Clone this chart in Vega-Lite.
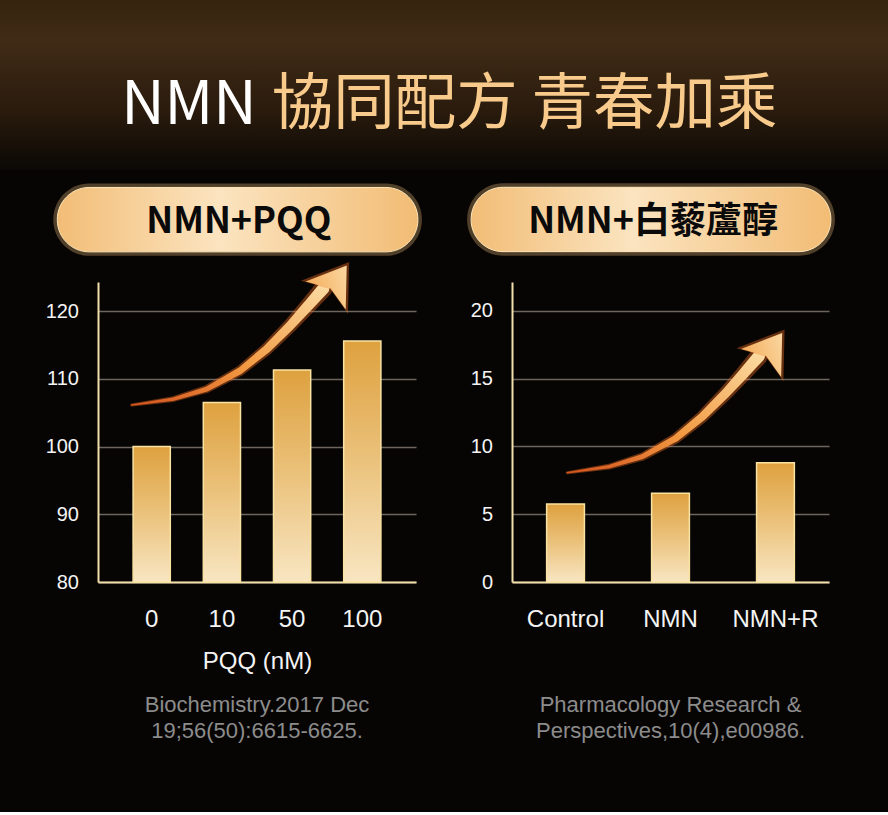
{
  "$schema": "https://vega.github.io/schema/vega-lite/v6.json",
  "background": "#070504",
  "padding": {"left": 0, "top": 0, "right": 0, "bottom": 70},
  "autosize": {"type": "pad"},
  "spacing": 13,
  "config": {
    "font": "Liberation Sans",
    "view": {"stroke": null},
    "axis": {
      "ticks": false,
      "labelColor": "#F4F4F4",
      "labelFont": "Liberation Sans",
      "titleFont": "Liberation Sans",
      "titleColor": "#F4F4F4",
      "titleFontWeight": "normal",
      "domainColor": "#F2DFAC",
      "domainWidth": 2,
      "gridColor": "#6C665C",
      "gridWidth": 1.5
    }
  },
  "vconcat": [
    {
      "width": 888,
      "height": 170,
      "view": {
        "stroke": null,
        "fill": {
          "gradient": "linear",
          "x1": 0, "y1": 0, "x2": 0, "y2": 1,
          "stops": [
            {"offset": 0, "color": "#36240F"},
            {"offset": 0.25, "color": "#402B16"},
            {"offset": 0.65, "color": "#2A1B0D"},
            {"offset": 1, "color": "#0B0805"}
          ]
        }
      },
      "layer": [
        {
          "data": {"values": [{"part": "NMN"}]},
          "mark": {"type": "text", "align": "right", "baseline": "alphabetic", "font": "Noto Sans CJK TC", "fontSize": 60, "color": "#FFFFFF"},
          "encoding": {
            "x": {"datum": 28.9, "type": "quantitative", "scale": {"domain": [0, 100]}, "axis": null},
            "y": {"datum": 27, "type": "quantitative", "scale": {"domain": [0, 100]}, "axis": null},
            "text": {"field": "part"}
          }
        },
        {
          "data": {"values": [{"part": "協同配方 青春加乘"}]},
          "mark": {"type": "text", "align": "left", "baseline": "alphabetic", "font": "Noto Sans CJK TC", "fontSize": 61.5, "color": "#F8CA8B"},
          "encoding": {
            "x": {"datum": 30.6, "type": "quantitative", "scale": {"domain": [0, 100]}, "axis": null},
            "y": {"datum": 27, "type": "quantitative", "scale": {"domain": [0, 100]}, "axis": null},
            "text": {"field": "part"}
          }
        }
      ]
    },
    {
      "spacing": 0,
      "hconcat": [
        {
          "width": 45,
          "height": 1,
          "data": {"values": [{"spacer": 1}]},
          "mark": {"type": "rect", "opacity": 0},
          "encoding": {}
        },
        {
          "spacing": 45,
          "hconcat": [
            {
              "width": 318,
              "height": 300,
              "title": {
                "text": ["Biochemistry.2017 Dec", "19;56(50):6615-6625."],
                "orient": "bottom",
                "frame": "group",
                "anchor": "middle",
                "font": "Liberation Sans",
                "fontSize": 22,
                "fontWeight": "normal",
                "color": "#8C8C8C",
                "lineHeight": 26,
                "offset": 22
              },
              "resolve": {"scale": {"x": "independent", "size": "independent"}},
              "layer": [
                {
                  "data": {"values": [{"label": "NMN+PQQ"}]},
                  "mark": {"type": "rect", "cornerRadius": 36, "clip": false, "color": "#FFCB80", "opacity": 0.3},
                  "encoding": {
                    "x": {"datum": -14.06, "type": "quantitative", "scale": {"domain": [0, 100]}, "axis": null},
                    "x2": {"datum": 101.86},
                    "y": {"datum": 128.16, "type": "quantitative", "scale": {"domain": [80, 124.3], "nice": false, "zero": false}, "axis": {"values": [80, 90, 100, 110, 120], "title": null, "labelFontSize": 20, "labelPadding": 19.5, "grid": true}},
                    "y2": {"datum": 138.85}
                  }
                },
                {
                  "data": {"values": [{"label": "NMN+PQQ"}]},
                  "mark": {"type": "rect", "cornerRadius": 32, "clip": false, "stroke": "#FFE6B8", "strokeWidth": 1,
                    "fill": {"gradient": "linear", "x1": 0, "y1": 0, "x2": 1, "y2": 0, "stops": [{"offset": 0, "color": "#F2BD76"}, {"offset": 0.45, "color": "#FBE4C0"}, {"offset": 1, "color": "#F2BC74"}]}},
                  "encoding": {
                    "x": {"datum": -12.8, "type": "quantitative", "scale": {"domain": [0, 100]}, "axis": null},
                    "x2": {"datum": 100.6},
                    "y": {"datum": 128.75, "type": "quantitative", "scale": {"domain": [80, 124.3], "nice": false, "zero": false}, "axis": {"values": [80, 90, 100, 110, 120], "title": null, "labelFontSize": 20, "labelPadding": 19.5, "grid": true}},
                    "y2": {"datum": 138.26}
                  }
                },
                {
                  "data": {"values": [{"label": "NMN+PQQ"}]},
                  "mark": {"type": "text", "align": "center", "baseline": "middle", "font": "Noto Sans CJK TC", "fontWeight": "bold", "fontSize": 36, "color": "#0A0A0A", "clip": false},
                  "encoding": {
                    "x": {"datum": 44.3, "type": "quantitative", "scale": {"domain": [0, 100]}, "axis": null},
                    "y": {"datum": 133.1, "type": "quantitative", "scale": {"domain": [80, 124.3], "nice": false, "zero": false}, "axis": {"values": [80, 90, 100, 110, 120], "title": null, "labelFontSize": 20, "labelPadding": 19.5, "grid": true}},
                    "text": {"field": "label"}
                  }
                },
                {
                  "data": {"values": [
                    {"dose": "0", "value": 100},
                    {"dose": "10", "value": 106.5},
                    {"dose": "50", "value": 111.3},
                    {"dose": "100", "value": 115.6}
                  ]},
                  "mark": {"type": "bar", "stroke": "#F9E3A3", "strokeWidth": 1.5, "clip": false,
                    "fill": {"gradient": "linear", "x1": 0, "y1": 0, "x2": 0, "y2": 1, "stops": [{"offset": 0, "color": "#DEA13F"}, {"offset": 0.5, "color": "#EBC27C"}, {"offset": 1, "color": "#F8E6C2"}]}},
                  "encoding": {
                    "x": {"field": "dose", "type": "nominal", "sort": ["0", "10", "50", "100"], "scale": {"paddingInner": 0.47, "paddingOuter": 0.5},
                      "axis": {"labelAngle": 0, "labelFontSize": 24, "labelPadding": 25, "title": "PQQ (nM)", "titleFontSize": 24, "titlePadding": 18, "grid": false}},
                    "y": {"field": "value", "type": "quantitative", "scale": {"domain": [80, 124.3], "nice": false, "zero": false}, "axis": {"values": [80, 90, 100, 110, 120], "title": null, "labelFontSize": 20, "labelPadding": 19.5, "grid": true}},
                    "y2": {"datum": 80}
                  }
                },
                {
                  "data": {"values": [
                    {"t": 0, "ax": 10.6, "ay": 106.13},
                    {"t": 0.18, "ax": 23.7, "ay": 107.01},
                    {"t": 0.33, "ax": 34.2, "ay": 108.49},
                    {"t": 0.49, "ax": 44.7, "ay": 111.2},
                    {"t": 0.62, "ax": 53.05, "ay": 114.39},
                    {"t": 0.74, "ax": 60.4, "ay": 117.84},
                    {"t": 0.87, "ax": 66.16, "ay": 120.84},
                    {"t": 1, "ax": 70.88, "ay": 123.35}
                  ]},
                  "layer": [
                    {
                      "mark": {"type": "trail", "color": "#FF7424", "opacity": 0.38, "clip": false},
                      "encoding": {
                        "x": {"field": "ax", "type": "quantitative", "scale": {"domain": [0, 100]}, "axis": null},
                        "y": {"field": "ay", "type": "quantitative", "scale": {"domain": [80, 124.3], "nice": false, "zero": false}, "axis": {"values": [80, 90, 100, 110, 120], "title": null, "labelFontSize": 20, "labelPadding": 19.5, "grid": true}},
                        "order": {"field": "t"},
                        "size": {"field": "t", "type": "quantitative", "scale": {"domain": [0, 1], "range": [3, 18]}, "legend": null}
                      }
                    },
                    {
                      "mark": {"type": "trail", "clip": false,
                        "color": {"gradient": "linear", "x1": 0, "y1": 1, "x2": 1, "y2": 0, "stops": [{"offset": 0, "color": "#D4521E"}, {"offset": 0.45, "color": "#F29A42"}, {"offset": 1, "color": "#FCDDA6"}]}},
                      "encoding": {
                        "x": {"field": "ax", "type": "quantitative", "scale": {"domain": [0, 100]}, "axis": null},
                        "y": {"field": "ay", "type": "quantitative", "scale": {"domain": [80, 124.3], "nice": false, "zero": false}, "axis": {"values": [80, 90, 100, 110, 120], "title": null, "labelFontSize": 20, "labelPadding": 19.5, "grid": true}},
                        "order": {"field": "t"},
                        "size": {"field": "t", "type": "quantitative", "scale": {"domain": [0, 1], "range": [1.5, 12]}, "legend": null}
                      }
                    }
                  ],
                  "resolve": {"scale": {"size": "independent"}}
                },
                {
                  "data": {"values": [{"label": "arrow"}]},
                  "mark": {"type": "point", "shape": "M0,-1L1,0.5L0,0.15L-1,0.5Z", "size": 3300, "angle": 35, "filled": true, "color": "#FF7424", "opacity": 0.38, "clip": false},
                  "encoding": {
                    "x": {"datum": 73.8, "type": "quantitative", "scale": {"domain": [0, 100]}, "axis": null},
                    "y": {"datum": 123.79, "type": "quantitative", "scale": {"domain": [80, 124.3], "nice": false, "zero": false}, "axis": {"values": [80, 90, 100, 110, 120], "title": null, "labelFontSize": 20, "labelPadding": 19.5, "grid": true}}
                  }
                },
                {
                  "data": {"values": [{"label": "arrow"}]},
                  "mark": {"type": "point", "shape": "M0,-1L1,0.5L0,0.15L-1,0.5Z", "size": 2400, "angle": 35, "filled": true, "opacity": 1, "clip": false,
                    "color": {"gradient": "linear", "x1": 0, "y1": 1, "x2": 1, "y2": 0, "stops": [{"offset": 0, "color": "#F4AE5C"}, {"offset": 1, "color": "#FCE4B8"}]}},
                  "encoding": {
                    "x": {"datum": 73.8, "type": "quantitative", "scale": {"domain": [0, 100]}, "axis": null},
                    "y": {"datum": 123.79, "type": "quantitative", "scale": {"domain": [80, 124.3], "nice": false, "zero": false}, "axis": {"values": [80, 90, 100, 110, 120], "title": null, "labelFontSize": 20, "labelPadding": 19.5, "grid": true}}
                  }
                }
              ]
            },
            {
              "width": 317,
              "height": 300,
              "title": {
                "text": ["Pharmacology Research &", "Perspectives,10(4),e00986."],
                "orient": "bottom",
                "frame": "group",
                "anchor": "middle",
                "font": "Liberation Sans",
                "fontSize": 22,
                "fontWeight": "normal",
                "color": "#8C8C8C",
                "lineHeight": 26,
                "offset": 64
              },
              "resolve": {"scale": {"x": "independent", "size": "independent"}},
              "layer": [
                {
                  "data": {"values": [{"label": "NMN+白藜蘆醇"}]},
                  "mark": {"type": "rect", "cornerRadius": 36, "clip": false, "color": "#FFCB80", "opacity": 0.3},
                  "encoding": {
                    "x": {"datum": -14.16, "type": "quantitative", "scale": {"domain": [0, 100]}, "axis": null},
                    "x2": {"datum": 101.86},
                    "y": {"datum": 24.08, "type": "quantitative", "scale": {"domain": [0, 22.14], "nice": false, "zero": false}, "axis": {"values": [0, 5, 10, 15, 20], "title": null, "labelFontSize": 20, "labelPadding": 19.5, "grid": true}},
                    "y2": {"datum": 29.43}
                  }
                },
                {
                  "data": {"values": [{"label": "NMN+白藜蘆醇"}]},
                  "mark": {"type": "rect", "cornerRadius": 32, "clip": false, "stroke": "#FFE6B8", "strokeWidth": 1,
                    "fill": {"gradient": "linear", "x1": 0, "y1": 0, "x2": 1, "y2": 0, "stops": [{"offset": 0, "color": "#F2BD76"}, {"offset": 0.45, "color": "#FBE4C0"}, {"offset": 1, "color": "#F2BC74"}]}},
                  "encoding": {
                    "x": {"datum": -12.9, "type": "quantitative", "scale": {"domain": [0, 100]}, "axis": null},
                    "x2": {"datum": 100.6},
                    "y": {"datum": 24.38, "type": "quantitative", "scale": {"domain": [0, 22.14], "nice": false, "zero": false}, "axis": {"values": [0, 5, 10, 15, 20], "title": null, "labelFontSize": 20, "labelPadding": 19.5, "grid": true}},
                    "y2": {"datum": 29.13}
                  }
                },
                {
                  "data": {"values": [{"label": "NMN+白藜蘆醇"}]},
                  "mark": {"type": "text", "align": "center", "baseline": "middle", "font": "Noto Sans CJK TC", "fontWeight": "bold", "fontSize": 36, "color": "#0A0A0A", "clip": false},
                  "encoding": {
                    "x": {"datum": 44.5, "type": "quantitative", "scale": {"domain": [0, 100]}, "axis": null},
                    "y": {"datum": 26.57, "type": "quantitative", "scale": {"domain": [0, 22.14], "nice": false, "zero": false}, "axis": {"values": [0, 5, 10, 15, 20], "title": null, "labelFontSize": 20, "labelPadding": 19.5, "grid": true}},
                    "text": {"field": "label"}
                  }
                },
                {
                  "data": {"values": [
                    {"group": "Control", "value": 5.75},
                    {"group": "NMN", "value": 6.55},
                    {"group": "NMN+R", "value": 8.8}
                  ]},
                  "mark": {"type": "bar", "stroke": "#F9E3A3", "strokeWidth": 1.5, "clip": false,
                    "fill": {"gradient": "linear", "x1": 0, "y1": 0, "x2": 0, "y2": 1, "stops": [{"offset": 0, "color": "#DEA13F"}, {"offset": 0.5, "color": "#EBC27C"}, {"offset": 1, "color": "#F8E6C2"}]}},
                  "encoding": {
                    "x": {"field": "group", "type": "nominal", "sort": ["Control", "NMN", "NMN+R"], "scale": {"paddingInner": 0.64, "paddingOuter": 0.33},
                      "axis": {"labelAngle": 0, "labelFontSize": 24, "labelPadding": 25, "title": null, "grid": false}},
                    "y": {"field": "value", "type": "quantitative", "scale": {"domain": [0, 22.14], "nice": false, "zero": false}, "axis": {"values": [0, 5, 10, 15, 20], "title": null, "labelFontSize": 20, "labelPadding": 19.5, "grid": true}},
                    "y2": {"datum": 0}
                  }
                },
                {
                  "data": {"values": [
                    {"t": 0, "ax": 17.44, "ay": 8.07},
                    {"t": 0.18, "ax": 30.6, "ay": 8.51},
                    {"t": 0.33, "ax": 41.1, "ay": 9.25},
                    {"t": 0.49, "ax": 51.64, "ay": 10.6},
                    {"t": 0.62, "ax": 60.03, "ay": 12.2},
                    {"t": 0.74, "ax": 67.41, "ay": 13.93},
                    {"t": 0.87, "ax": 73.19, "ay": 15.42},
                    {"t": 1, "ax": 77.92, "ay": 16.68}
                  ]},
                  "layer": [
                    {
                      "mark": {"type": "trail", "color": "#FF7424", "opacity": 0.38, "clip": false},
                      "encoding": {
                        "x": {"field": "ax", "type": "quantitative", "scale": {"domain": [0, 100]}, "axis": null},
                        "y": {"field": "ay", "type": "quantitative", "scale": {"domain": [0, 22.14], "nice": false, "zero": false}, "axis": {"values": [0, 5, 10, 15, 20], "title": null, "labelFontSize": 20, "labelPadding": 19.5, "grid": true}},
                        "order": {"field": "t"},
                        "size": {"field": "t", "type": "quantitative", "scale": {"domain": [0, 1], "range": [3, 18]}, "legend": null}
                      }
                    },
                    {
                      "mark": {"type": "trail", "clip": false,
                        "color": {"gradient": "linear", "x1": 0, "y1": 1, "x2": 1, "y2": 0, "stops": [{"offset": 0, "color": "#D4521E"}, {"offset": 0.45, "color": "#F29A42"}, {"offset": 1, "color": "#FCDDA6"}]}},
                      "encoding": {
                        "x": {"field": "ax", "type": "quantitative", "scale": {"domain": [0, 100]}, "axis": null},
                        "y": {"field": "ay", "type": "quantitative", "scale": {"domain": [0, 22.14], "nice": false, "zero": false}, "axis": {"values": [0, 5, 10, 15, 20], "title": null, "labelFontSize": 20, "labelPadding": 19.5, "grid": true}},
                        "order": {"field": "t"},
                        "size": {"field": "t", "type": "quantitative", "scale": {"domain": [0, 1], "range": [1.5, 12]}, "legend": null}
                      }
                    }
                  ],
                  "resolve": {"scale": {"size": "independent"}}
                },
                {
                  "data": {"values": [{"label": "arrow"}]},
                  "mark": {"type": "point", "shape": "M0,-1L1,0.5L0,0.15L-1,0.5Z", "size": 3300, "angle": 35, "filled": true, "color": "#FF7424", "opacity": 0.38, "clip": false},
                  "encoding": {
                    "x": {"datum": 80.8, "type": "quantitative", "scale": {"domain": [0, 100]}, "axis": null},
                    "y": {"datum": 16.9, "type": "quantitative", "scale": {"domain": [0, 22.14], "nice": false, "zero": false}, "axis": {"values": [0, 5, 10, 15, 20], "title": null, "labelFontSize": 20, "labelPadding": 19.5, "grid": true}}
                  }
                },
                {
                  "data": {"values": [{"label": "arrow"}]},
                  "mark": {"type": "point", "shape": "M0,-1L1,0.5L0,0.15L-1,0.5Z", "size": 2400, "angle": 35, "filled": true, "opacity": 1, "clip": false,
                    "color": {"gradient": "linear", "x1": 0, "y1": 1, "x2": 1, "y2": 0, "stops": [{"offset": 0, "color": "#F4AE5C"}, {"offset": 1, "color": "#FCE4B8"}]}},
                  "encoding": {
                    "x": {"datum": 80.8, "type": "quantitative", "scale": {"domain": [0, 100]}, "axis": null},
                    "y": {"datum": 16.9, "type": "quantitative", "scale": {"domain": [0, 22.14], "nice": false, "zero": false}, "axis": {"values": [0, 5, 10, 15, 20], "title": null, "labelFontSize": 20, "labelPadding": 19.5, "grid": true}}
                  }
                }
              ]
            }
          ]
        }
      ]
    }
  ]
}
